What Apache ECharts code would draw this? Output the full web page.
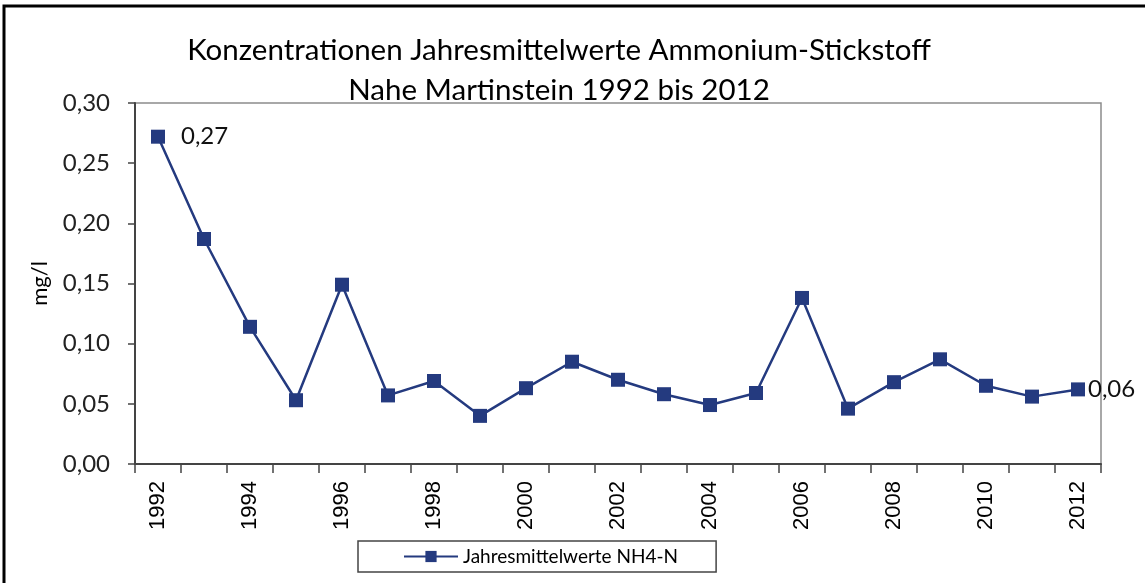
<!DOCTYPE html>
<html>
<head>
<meta charset="utf-8">
<script src="https://cdn.jsdelivr.net/npm/echarts@6/dist/echarts.min.js"></script>
<style>
  html, body { margin: 0; padding: 0; background: #fff; }
  #chart { width: 1145px; height: 583px; }
</style>
</head>
<body>
<div id="chart"></div>
<script>
// Jahre und Jahresmittelwerte NH4-N (mg/l)
const years = ['1992', '1993', '1994', '1995', '1996', '1997', '1998', '1999', '2000', '2001',
  '2002', '2003', '2004', '2005', '2006', '2007', '2008', '2009', '2010', '2011', '2012'];
const nh4Values = [0.272, 0.187, 0.114, 0.053, 0.149, 0.057, 0.069, 0.040, 0.063, 0.085,
  0.070, 0.058, 0.049, 0.059, 0.138, 0.046, 0.068, 0.087, 0.065, 0.056, 0.062];
// nur erster und letzter Wert beschriftet
const labelledIdx = [0, 20];

const labelFont = 'Lato, "Open Sans", sans-serif';
const axisFont = '"Liberation Sans", Arial, sans-serif';
const navy = '#243a7f';

const fmt = v => v.toFixed(2).replace('.', ',');

// Datenpunkte, Beschriftung nur am Anfang und Ende
const seriesData = nh4Values.map((v, i) => ({
  value: v,
  label: {
    show: labelledIdx.includes(i),
    distance: i === 0 ? 16 : 3
  }
}));

const chart = echarts.init(document.getElementById('chart'));

const option = {
  animation: false,
  title: {
    text: 'Konzentrationen Jahresmittelwerte Ammonium-Stickstoff\nNahe Martinstein 1992 bis 2012',
    left: 554,
    top: 25,
    textAlign: 'center',
    textStyle: {
      fontFamily: labelFont,
      fontSize: 29.5,
      fontWeight: 'normal',
      color: '#000',
      lineHeight: 40
    }
  },
  legend: {
    bottom: 11,
    left: 358,
    itemWidth: 54,
    itemHeight: 14,
    itemGap: 0,
    borderColor: '#444',
    borderWidth: 1.5,
    borderRadius: 0,
    padding: [6, 38, 6, 45],
    textStyle: { fontFamily: labelFont, fontSize: 19, color: '#000', padding: [0, 0, 0, 0] },
    data: ['Jahresmittelwerte NH4-N']
  },
  grid: {
    left: 135,
    right: 44,
    top: 103,
    bottom: 119,
    show: true,
    borderColor: '#8c8c8c',
    borderWidth: 1.5
  },
  xAxis: {
    type: 'category',
    data: years,
    boundaryGap: true,
    axisLine: { lineStyle: { color: '#444', width: 2 } },
    axisTick: { show: true, length: 9, interval: 0, lineStyle: { color: '#444', width: 1.5 } },
    axisLabel: {
      interval: 1,
      rotate: 90,
      margin: 17,
      fontFamily: axisFont,
      fontSize: 22,
      color: '#000'
    }
  },
  yAxis: {
    type: 'value',
    min: 0,
    max: 0.3,
    interval: 0.05,
    name: 'mg/l',
    nameLocation: 'middle',
    nameGap: 84,
    nameTextStyle: { fontFamily: labelFont, fontSize: 22, color: '#000' },
    axisLine: { show: true, lineStyle: { color: '#444', width: 2 } },
    axisTick: { show: true, length: 7, lineStyle: { color: '#444', width: 1.5 } },
    splitLine: { show: false },
    axisLabel: {
      margin: 25,
      fontFamily: labelFont,
      fontSize: 24,
      color: '#222',
      formatter: fmt
    }
  },
  series: [{
    name: 'Jahresmittelwerte NH4-N',
    type: 'line',
    data: seriesData,
    symbol: 'rect',
    symbolSize: 14,
    lineStyle: { color: navy, width: 2.5 },
    itemStyle: { color: navy },
    label: {
      position: 'right',
      fontFamily: labelFont,
      fontSize: 24,
      color: '#111',
      formatter: p => fmt(p.value)
    }
  }],
  graphic: [{
    type: 'rect',
    shape: { x: 4, y: 6, width: 1170, height: 600 },
    style: { fill: 'none', stroke: '#000', lineWidth: 3 },
    silent: true
  }]
};

chart.setOption(option);
</script>
</body>
</html>
